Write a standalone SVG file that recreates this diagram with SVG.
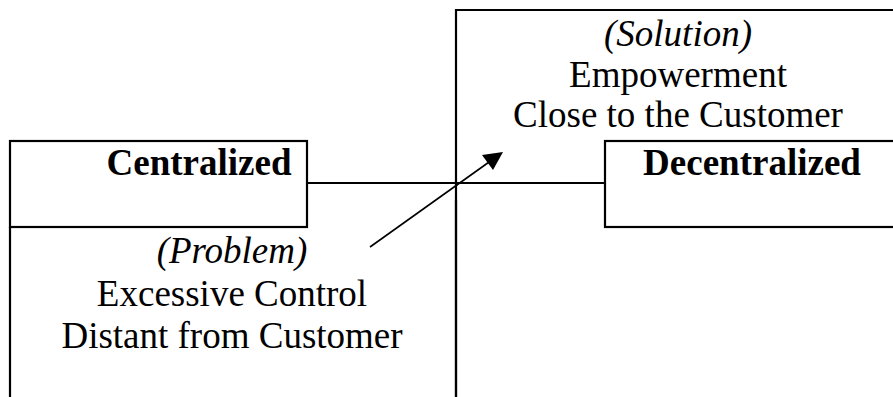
<svg xmlns="http://www.w3.org/2000/svg" width="893" height="397" viewBox="0 0 893 397">
<style>
.box{fill:none;stroke:#000;stroke-width:2.2}
.t{font-family:"Liberation Serif","Times New Roman",serif;font-size:37px;fill:#000;text-anchor:middle}
.b{font-weight:bold}
.i{font-style:italic}
.c{stroke:#000;fill:none}
</style>
<defs>
<marker id="ah" markerWidth="12" markerHeight="10" refX="11" refY="5" orient="auto" markerUnits="userSpaceOnUse">
<path d="M0,0 L12,5 L0,10 Z" fill="#000"/>
</marker>
</defs>
<rect width="893" height="397" fill="#fff"/>
<g id="problem">
<path class="box" d="M10,227 V400 M456,200 V400"/>
<text class="t i" x="232" y="263">(Problem)</text>
<text class="t" x="232" y="306">Excessive Control</text>
<text class="t" x="232" y="348">Distant from Customer</text>
</g>
<g id="solution">
<path class="box" d="M456,400 V10 H900"/>
<text class="t i" x="678" y="46">(Solution)</text>
<text class="t" x="678" y="87">Empowerment</text>
<text class="t" x="678" y="127">Close to the Customer</text>
</g>
<g id="centralized">
<rect class="box" x="10" y="141" width="297" height="86" fill="#fff"/>
<text class="t b" x="199" y="175">Centralized</text>
</g>
<g id="decentralized">
<rect class="box" x="605" y="141" width="300" height="86" fill="#fff"/>
<text class="t b" x="752" y="175">Decentralized</text>
</g>
<g id="connectors">
<line class="c" x1="307" y1="183" x2="605" y2="183" stroke-width="2.2"/>
<line class="c" x1="370" y1="247" x2="501" y2="153.5" stroke-width="1.6"/>
<polygon points="503,152 482,155 493,170" fill="#000"/>
</g>
</svg>
